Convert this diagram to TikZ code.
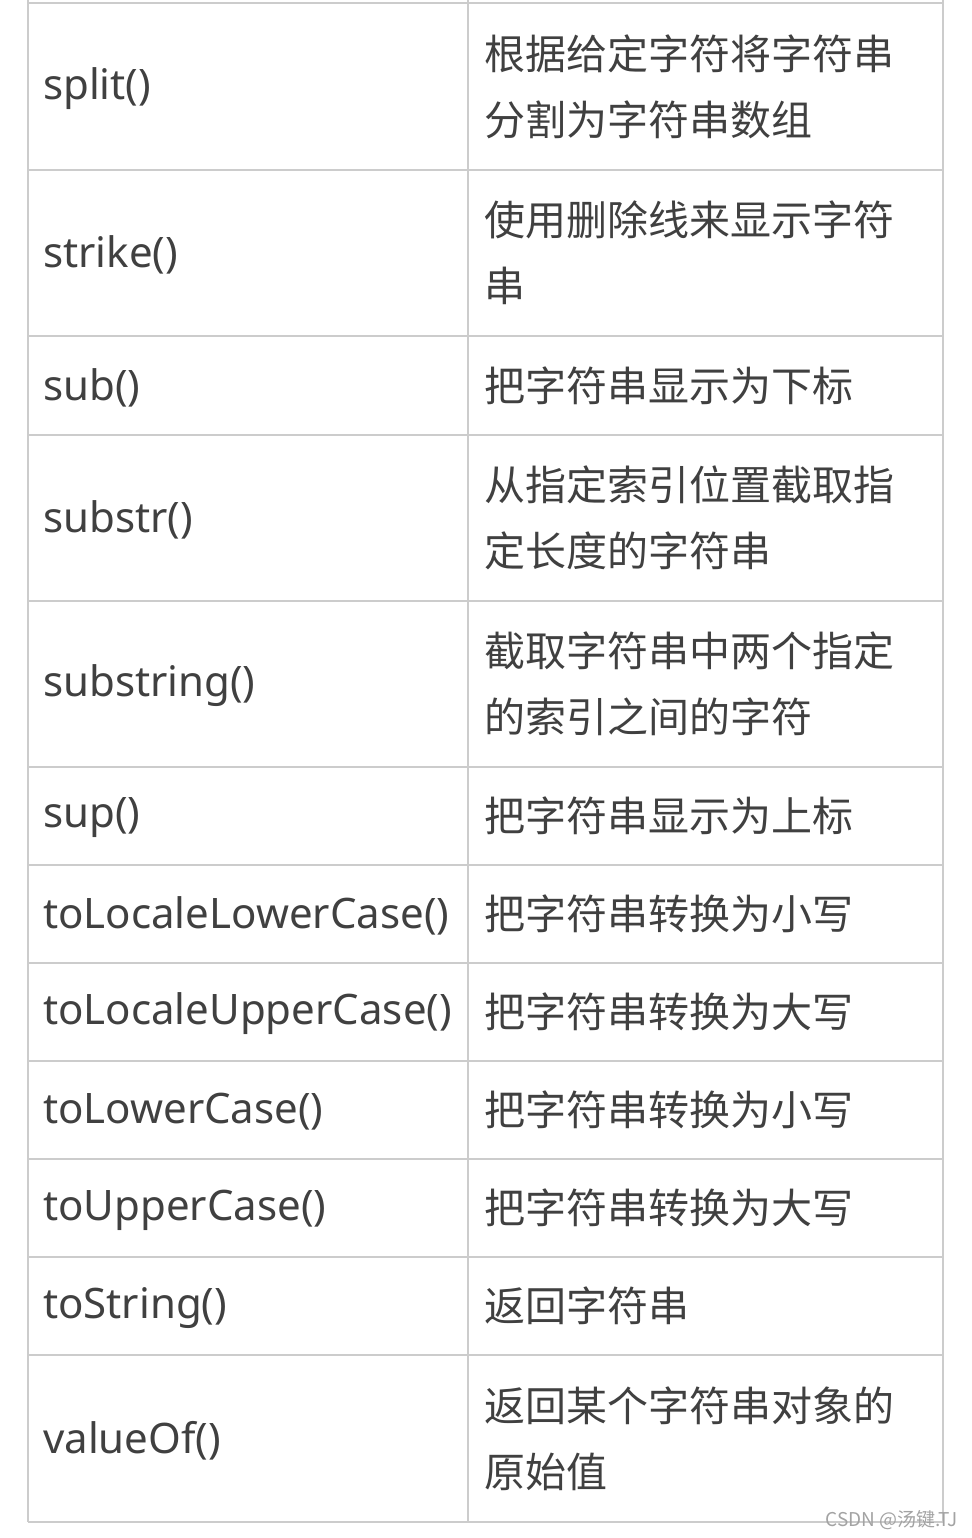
\documentclass[tikz,border=0pt]{standalone}
\usepackage{fontspec}
\setmainfont{Noto Sans}
\newfontfamily\cjk{Noto Sans CJK SC}
\definecolor{gris}{HTML}{CCCCCC}
\definecolor{texto}{HTML}{404040}
\tikzset{
  linea/.style={draw=gris, line width=2.5pt},
  metodo/.style={anchor=west, inner sep=0pt, text=texto, font=\fontsize{42}{66}\selectfont},
  descr/.style={anchor=west, inner sep=0pt, align=left, text=texto, font=\cjk\fontsize{41}{66}\selectfont}
}
\begin{document}
\begin{tikzpicture}[x=1pt,y=-1pt]
  \useasboundingbox (0,0) rectangle (971,1538);

  % Bordes verticales
  \draw[linea] (28,0) -- (28,1522);
  \draw[linea] (468,0) -- (468,1522);
  \draw[linea] (943,0) -- (943,1522);
  \draw[linea] (28,3) -- (943,3);

  % Filas de la tabla
  \foreach \n/\ya/\yb/\met/\des in {
    1/3/170/split()/{根据给定字符将字符串\\分割为字符串数组},
    2/170/336/strike()/{使用删除线来显示字符\\串},
    3/336/435/sub()/{把字符串显示为下标},
    4/435/601/substr()/{从指定索引位置截取指\\定长度的字符串},
    5/601/767/substring()/{截取字符串中两个指定\\的索引之间的字符},
    6/767/865/sup()/{把字符串显示为上标},
    7/865/963/toLocaleLowerCase()/{把字符串转换为小写},
    8/963/1061/toLocaleUpperCase()/{把字符串转换为大写},
    9/1061/1159/toLowerCase()/{把字符串转换为小写},
    10/1159/1257/toUpperCase()/{把字符串转换为大写},
    11/1257/1355/toString()/{返回字符串},
    12/1355/1522/valueOf()/{返回某个字符串对象的\\原始值}} {
    \draw[linea] (28,\yb) -- (943,\yb);
    \node[metodo] (m\n) at (43,{(\ya+\yb)/2+2}) {\met};
    \node[descr] (d\n) at (484,{(\ya+\yb)/2}) {\des};
  }

  % Marca de agua
  \node[anchor=east, inner sep=0pt, text=gris!80!black, font=\cjk\fontsize{19}{19}\selectfont] (marca) at (958,1520) {CSDN @汤键.TJ};
\end{tikzpicture}
\end{document}
